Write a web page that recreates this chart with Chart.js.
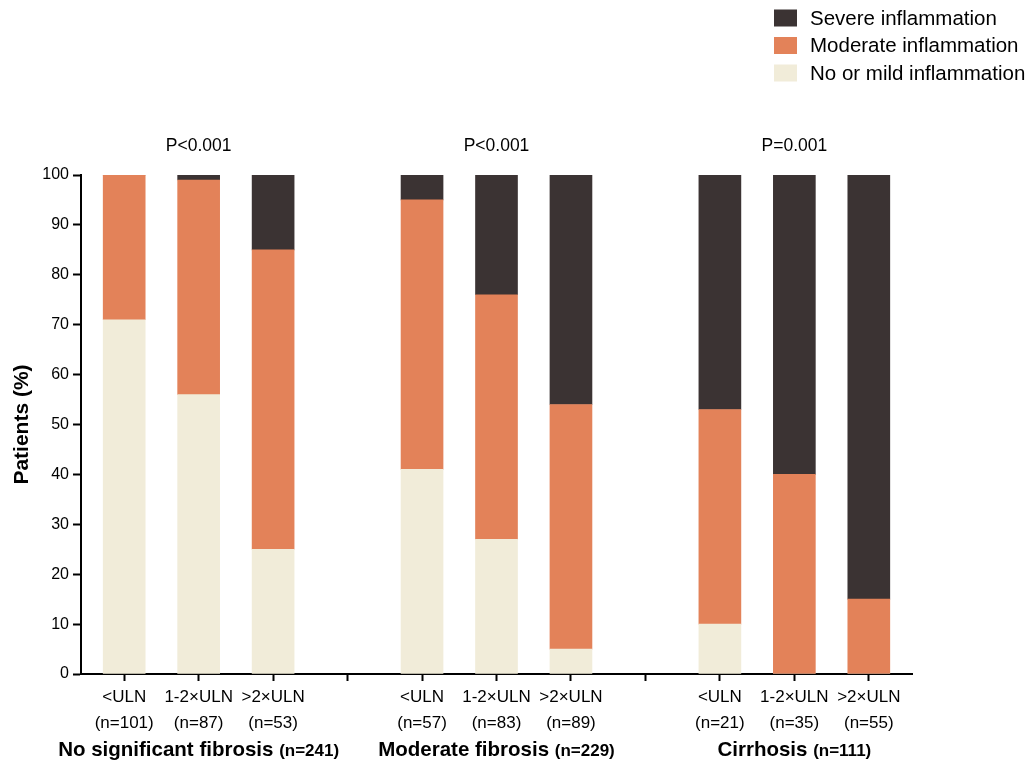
<!DOCTYPE html>
<html>
<head>
<meta charset="utf-8">
<script src="https://cdn.jsdelivr.net/npm/chart.js@4.4.1/dist/chart.umd.min.js"></script>
<style>
  html, body { margin: 0; padding: 0; background: #fff; }
  #wrap { width: 1030px; height: 761px; position: relative; }
</style>
</head>
<body>
<div id="wrap"><canvas id="chart"></canvas></div>
<script>
// bar slots: 0-2 first group, 3 gap, 4-6 second group, 7 gap, 8-10 third group
const barSlots = [0, 1, 2, 4, 5, 6, 8, 9, 10];
const barLevels = ["<ULN", "1-2×ULN", ">2×ULN", "<ULN", "1-2×ULN", ">2×ULN", "<ULN", "1-2×ULN", ">2×ULN"];
const barCounts = ["(n=101)", "(n=87)", "(n=53)", "(n=57)", "(n=83)", "(n=89)", "(n=21)", "(n=35)", "(n=55)"];

const mildValues = [71, 56, 25, 41, 27, 5, 10, 0, 0];
const moderateValues = [29, 43, 60, 54, 49, 49, 43, 40, 15];
const severeValues = [0, 1, 15, 5, 24, 46, 47, 60, 85];

const groupNames = ["No significant fibrosis", "Moderate fibrosis", "Cirrhosis"];
const groupCounts = ["(n=241)", "(n=229)", "(n=111)"];
const groupCenters = [1, 5, 9];
const pValues = ["P<0.001", "P<0.001", "P=0.001"];

const yTicks = [0, 10, 20, 30, 40, 50, 60, 70, 80, 90, 100];
const xTicks = [0, 1, 2, 3, 4, 5, 6, 7, 8, 9, 10];

const FONT = "'Liberation Sans', Arial, Helvetica, sans-serif";

function points(values) {
  return values.map((v, i) => ({ x: barSlots[i], y: v }));
}

const overlay = {
  id: "overlay",
  afterDraw(chart) {
    const ctx = chart.ctx;
    const x = chart.scales.x;
    const area = chart.chartArea;
    ctx.save();
    ctx.fillStyle = "#000";

    // p values above each group
    ctx.font = "17.5px " + FONT;
    ctx.textAlign = "center";
    ctx.textBaseline = "middle";
    groupCenters.forEach((c, i) => {
      ctx.fillText(pValues[i], x.getPixelForValue(c), area.top - 29);
    });

    // group names under the axis
    ctx.textAlign = "left";
    ctx.textBaseline = "alphabetic";
    groupCenters.forEach((c, i) => {
      const mainFont = "bold 20.5px " + FONT;
      const smallFont = "bold 17px " + FONT;
      ctx.font = mainFont;
      const w1 = ctx.measureText(groupNames[i] + " ").width;
      ctx.font = smallFont;
      const w2 = ctx.measureText(groupCounts[i]).width;
      const start = x.getPixelForValue(c) - (w1 + w2) / 2;
      ctx.font = mainFont;
      ctx.fillText(groupNames[i] + " ", start, 756);
      ctx.font = smallFont;
      ctx.fillText(groupCounts[i], start + w1, 756);
    });

    // legend, top right, listed top of stack first
    const order = [2, 1, 0];
    ctx.font = "20.5px " + FONT;
    ctx.textBaseline = "middle";
    order.forEach((d, row) => {
      const ds = chart.data.datasets[d];
      const cy = 18 + row * 27.5;
      ctx.fillStyle = ds.backgroundColor;
      ctx.fillRect(774, cy - 8.5, 23, 17);
      ctx.fillStyle = "#000";
      ctx.fillText(ds.label, 810, cy + 1);
    });
    ctx.restore();
  },
};

new Chart(document.getElementById("chart"), {
  type: "bar",
  data: {
    datasets: [
      { label: "No or mild inflammation", data: points(mildValues), backgroundColor: "#f1ecd9" },
      { label: "Moderate inflammation", data: points(moderateValues), backgroundColor: "#e38259" },
      { label: "Severe inflammation", data: points(severeValues), backgroundColor: "#3b3333" },
    ],
  },
  options: {
    responsive: true,
    maintainAspectRatio: false,
    animation: false,
    layout: {
      padding: { left: 0, top: 175, right: 118, bottom: 0 },
    },
    datasets: {
      bar: { barThickness: 42, borderWidth: 0 },
    },
    plugins: {
      legend: { display: false },
      tooltip: { enabled: false },
    },
    scales: {
      x: {
        type: "linear",
        stacked: true,
        offset: false,
        min: -0.58,
        max: 10.58,
        afterBuildTicks(scale) {
          scale.ticks = xTicks.map((v) => ({ value: v }));
        },
        afterFit(scale) {
          scale.height = 87;
        },
        grid: {
          offset: false,
          drawOnChartArea: false,
          drawTicks: true,
          tickLength: 7,
          tickWidth: 2,
          tickColor: "#000",
        },
        border: { display: true, color: "#000", width: 2 },
        ticks: {
          autoSkip: false,
          maxRotation: 0,
          color: "#000",
          padding: 4,
          font: { family: FONT, size: 17, lineHeight: 1.5 },
          callback(value) {
            const i = barSlots.indexOf(value);
            return i < 0 ? "" : [barLevels[i], barCounts[i]];
          },
        },
      },
      y: {
        stacked: true,
        min: 0,
        max: 100,
        afterBuildTicks(scale) {
          scale.ticks = yTicks.map((v) => ({ value: v }));
        },
        afterFit(scale) {
          scale.width = 81;
        },
        grid: {
          drawOnChartArea: false,
          drawTicks: true,
          tickLength: 8,
          tickWidth: 2,
          tickColor: "#000",
        },
        border: { display: true, color: "#000", width: 2 },
        ticks: {
          color: "#000",
          padding: 4,
          font: { family: FONT, size: 16 },
        },
        title: {
          display: true,
          text: "Patients (%)",
          color: "#000",
          padding: { top: 10, bottom: 0 },
          font: { family: FONT, size: 21, weight: "bold" },
        },
      },
    },
  },
  plugins: [overlay],
});
</script>
</body>
</html>
